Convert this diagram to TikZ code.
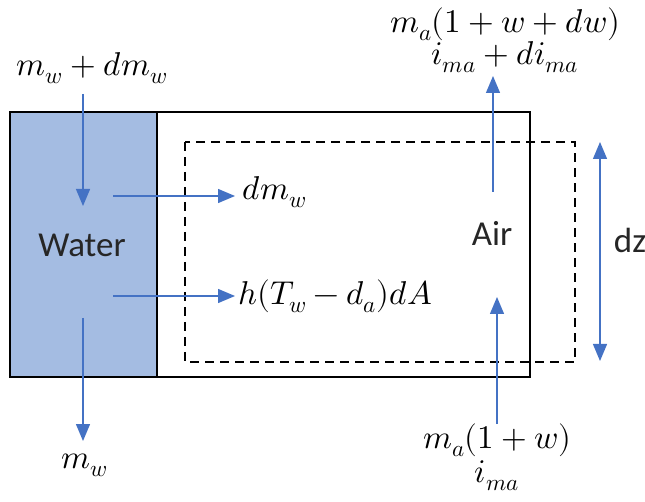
\documentclass[tikz,border=0pt]{standalone}
\usepackage{fontspec}
\usepackage{unicode-math}
\setmathfont{Latin Modern Math}
\newfontfamily\carlito{Carlito}
\usetikzlibrary{arrows.meta}
\definecolor{waterblue}{HTML}{A4BCE2}
\definecolor{arrowblue}{HTML}{4472C4}
\begin{document}
\begin{tikzpicture}[x=1pt,y=-1pt,
  flow/.style={draw=arrowblue, line width=1.3pt, -{Triangle[length=17pt,width=14pt]}},
  both/.style={draw=arrowblue, line width=1.3pt, {Triangle[length=17pt,width=14pt]}-{Triangle[length=17pt,width=14pt]}},
  lab/.style={font=\fontsize{33}{37}\selectfont, inner sep=0pt},
  sans/.style={font=\carlito\fontsize{35}{38}\selectfont, inner sep=0pt, text=black!85}]
\useasboundingbox (0,0) rectangle (645,502);
% boxes
\fill[waterblue] (10,112) rectangle (157,377);
\draw[line width=1.5pt] (10,112) rectangle (530,377);
\draw[line width=1.5pt] (157,112) -- (157,377);
\draw[line width=1.8pt, dash pattern=on 9pt off 6pt] (185,142) rectangle (575,362);
% labels
\node[lab] (mwin) at (92,68) {$m_w+dm_w$};
\node[sans] (water) at (82,245) {Water};
\node[sans] (air) at (492,233) {Air};
\node[sans] (dz) at (630,240) {dz};
\node[lab, anchor=west] (dmw) at (242,192) {$dm_w$};
\node[lab, anchor=west] (heat) at (238,296) {$h(T_w-d_a)dA$};
\node[lab] (mwout) at (85,465) {$m_w$};
\node[lab] (maout) at (505,24) {$m_a(1+w+dw)$};
\node[lab] (iout) at (505,57) {$i_{ma}+di_{ma}$};
\node[lab] (main) at (497,440) {$m_a(1+w)$};
\node[lab] (iin) at (497,476) {$i_{ma}$};
% arrow coordinates
\coordinate (w1s) at (83,94);   \coordinate (w1e) at (83,206);
\coordinate (w2s) at (83,318);  \coordinate (w2e) at (83,441);
\coordinate (h1s) at (113,196); \coordinate (h1e) at (235,196);
\coordinate (h2s) at (113,296); \coordinate (h2e) at (235,296);
\coordinate (a1s) at (493,192); \coordinate (a1e) at (493,76);
\coordinate (a2s) at (497,424); \coordinate (a2e) at (497,297);
\coordinate (dzt) at (600,142); \coordinate (dzb) at (600,361);
% arrows
\draw[flow] (w1s) -- (w1e);
\draw[flow] (w2s) -- (w2e);
\draw[flow] (h1s) -- (h1e);
\draw[flow] (h2s) -- (h2e);
\draw[flow] (a1s) -- (a1e);
\draw[flow] (a2s) -- (a2e);
\draw[both] (dzt) -- (dzb);
\end{tikzpicture}
\end{document}
